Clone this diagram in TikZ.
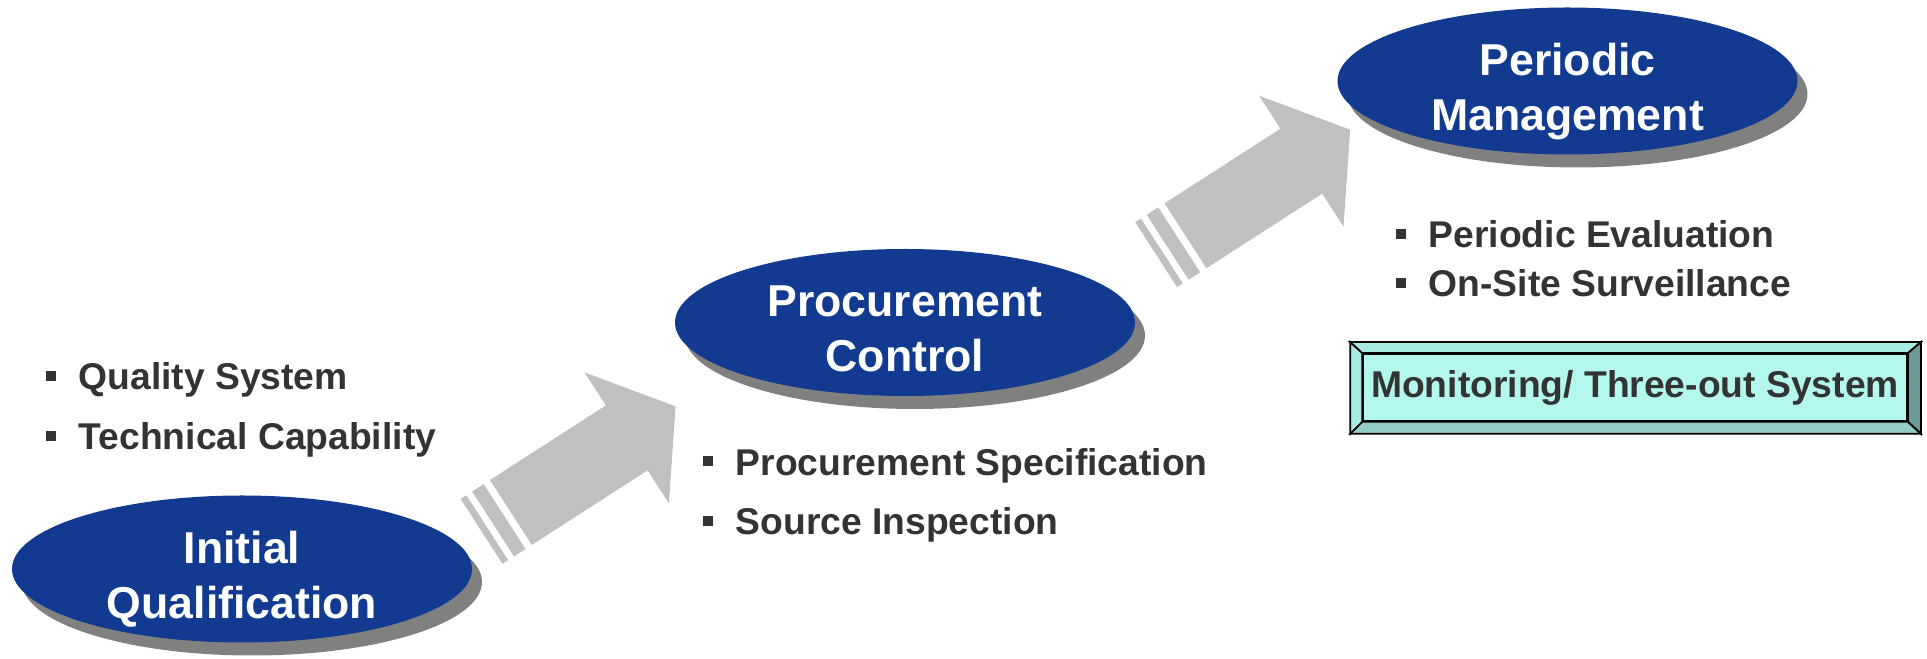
\documentclass[tikz,border=0pt]{standalone}
\usepackage{fontspec}
\setmainfont{Liberation Sans}
\usepackage{xcolor}
\definecolor{azulMarino}{RGB}{19,58,145}
\definecolor{grisSombra}{RGB}{128,128,128}
\definecolor{grisFlecha}{RGB}{192,192,192}
\definecolor{grisTexto}{RGB}{51,51,51}
\definecolor{aguaClaro}{RGB}{179,247,239}
\definecolor{aguaBorde}{RGB}{166,234,226}
\definecolor{aguaMedio}{RGB}{147,204,196}
\definecolor{aguaOscuro}{RGB}{107,154,148}
\usepackage{tikz}
\usetikzlibrary{shapes,shadows,calc,positioning}
\tikzstyle{stage}=[ellipse, fill=azulMarino, inner sep=0pt,
                   minimum width=4.6cm, minimum height=1.47cm,
                   drop shadow={shadow xshift=0.1cm, shadow yshift=-0.13cm,
                                fill=grisSombra, opacity=1}]
\tikzstyle{stagetext}=[text=white, inner sep=0pt, align=center,
                       text depth=0pt, yshift=-0.06cm,
                       font=\fontsize{12.7}{15.6}\selectfont\bfseries]
\tikzstyle{itemtext}=[anchor=base west, inner sep=0pt, text=grisTexto,
                      font=\fontsize{10.6}{12}\selectfont\bfseries]
\tikzstyle{bevel}=[draw=black, line width=0.5pt]
\newcommand{\cuadro}{\textcolor{grisTexto}{\rule[0.09cm]{0.1cm}{0.1cm}}\hspace{0.23cm}}

\begin{document}
\begin{tikzpicture}
    \useasboundingbox (0,0) rectangle (19.27,-6.59);

    % big arrows
    \coordinate (flecha1) at (5.109,-5.125);
    \coordinate (flecha2) at (11.855,-2.358);
    \foreach \f in {flecha1,flecha2}{
        \begin{scope}[shift={(\f)},rotate=32.8]
            \fill[grisFlecha] (0,-0.386) -- (1.378,-0.386) -- (1.378,-0.779)
                -- (1.959,0) -- (1.378,0.779) -- (1.378,0.386) -- (0,0.386) -- cycle;
            \fill[grisFlecha] (-0.075,-0.386) rectangle (-0.212,0.386);
            \fill[grisFlecha] (-0.281,-0.386) rectangle (-0.349,0.386);
        \end{scope}
    }

    % stages
    \node (init) [stage, label={[stagetext]center:{Initial\\Qualification}}] at (2.42,-5.69) {};
    \node (proc) [stage, label={[stagetext]center:{Procurement\\Control}}] at (9.05,-3.225) {};
    \node (peri) [stage, label={[stagetext]center:{Periodic\\Management}}] at (15.675,-0.81) {};

    % items
    \node (qs) [itemtext] at (0.45,-3.90) {\cuadro Quality System};
    \node (tc) [itemtext] at (0.45,-4.50) {\cuadro Technical Capability};
    \node (ps) [itemtext] at (7.02,-4.755) {\cuadro Procurement Specification};
    \node (si) [itemtext] at (7.02,-5.35) {\cuadro Source Inspection};
    \node (pe) [itemtext] at (13.95,-2.48) {\cuadro Periodic Evaluation};
    \node (os) [itemtext] at (13.95,-2.97) {\cuadro On-Site Surveillance};

    % monitoring box
    \node (mon) [bevel, fill=aguaClaro, text=grisTexto, inner sep=0pt,
                 minimum width=5.44cm, minimum height=0.67cm,
                 font=\fontsize{10.6}{12}\selectfont\bfseries]
        at (16.35,-3.875) {Monitoring/ Three-out System};
    \coordinate (mnw) at ($(mon.north west)+(-0.12,0.11)$);
    \coordinate (mne) at ($(mon.north east)+(0.13,0.11)$);
    \coordinate (mse) at ($(mon.south east)+(0.13,-0.12)$);
    \coordinate (msw) at ($(mon.south west)+(-0.12,-0.12)$);
    \filldraw[bevel, fill=aguaBorde] (mnw) -- (mne) -- (mon.north east) -- (mon.north west) -- cycle;
    \filldraw[bevel, fill=aguaOscuro] (mne) -- (mse) -- (mon.south east) -- (mon.north east) -- cycle;
    \filldraw[bevel, fill=aguaMedio] (mse) -- (msw) -- (mon.south west) -- (mon.south east) -- cycle;
    \filldraw[bevel, fill=aguaBorde] (msw) -- (mnw) -- (mon.north west) -- (mon.south west) -- cycle;
\end{tikzpicture}
\end{document}
